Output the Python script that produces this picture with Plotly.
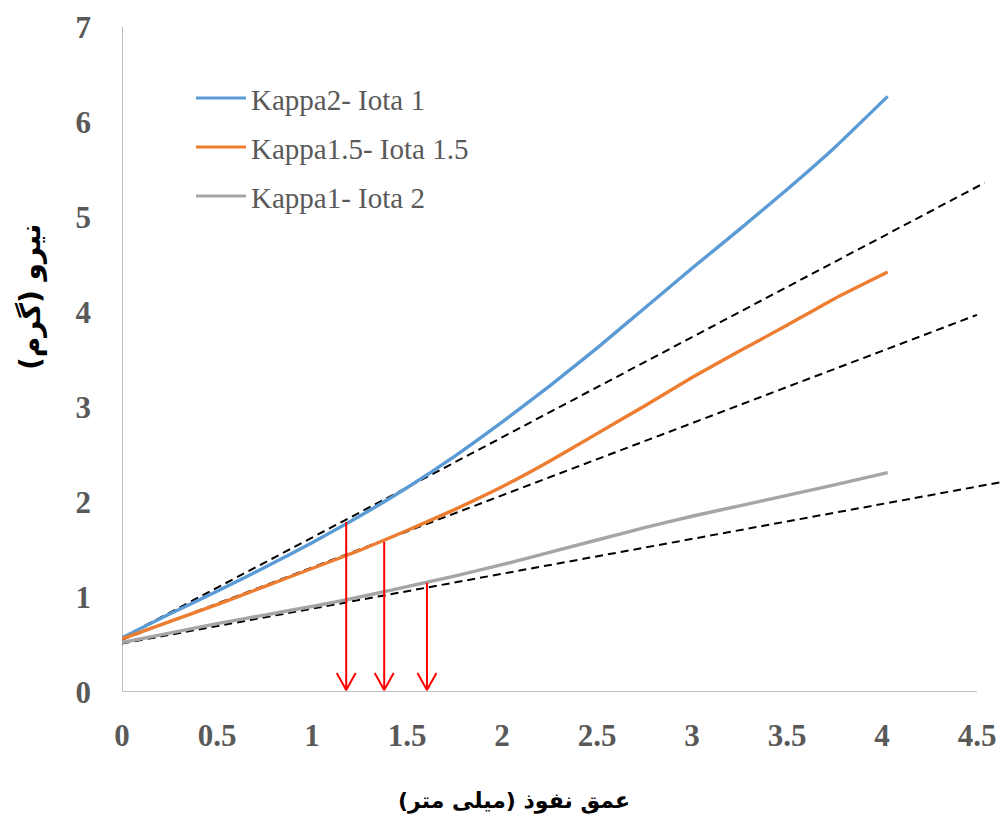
import plotly.graph_objects as go

# ---------------- data ----------------
depth = [0, 0.25, 0.5, 0.75, 1.0, 1.25, 1.5, 1.75, 2.0, 2.25, 2.5, 2.75, 3.0, 3.25, 3.5, 3.75, 4.03]
force_k2_i1 = [0.57, 0.82, 1.06, 1.31, 1.57, 1.85, 2.15, 2.48, 2.84, 3.22, 3.62, 4.04, 4.46, 4.87, 5.29, 5.73, 6.27]
force_k15_i15 = [0.56, 0.74, 0.92, 1.11, 1.30, 1.49, 1.70, 1.92, 2.16, 2.43, 2.72, 3.01, 3.31, 3.59, 3.86, 4.14, 4.42]
force_k1_i2 = [0.52, 0.62, 0.72, 0.81, 0.90, 1.00, 1.11, 1.22, 1.34, 1.47, 1.60, 1.73, 1.85, 1.96, 2.07, 2.18, 2.31]

series_names = ["Kappa2- Iota 1", "Kappa1.5- Iota 1.5", "Kappa1- Iota 2"]
series_values = [force_k2_i1, force_k15_i15, force_k1_i2]
series_colors = ["#5B9BD5", "#ED7D31", "#A5A5A5"]

# tangent (dashed) lines: start at x=0, end at x_end
tangent_y_start = [0.57, 0.55, 0.51]
tangent_x_end = [4.54, 4.50, 4.63]
tangent_y_end = [5.36, 3.97, 2.21]

# red arrows (departure points)
arrow_x = [1.18, 1.38, 1.605]
arrow_top = [1.79, 1.58, 1.15]

x_ticks = [0, 0.5, 1, 1.5, 2, 2.5, 3, 3.5, 4, 4.5]
x_tick_text = ["0", "0.5", "1", "1.5", "2", "2.5", "3", "3.5", "4", "4.5"]
y_ticks = [0, 1, 2, 3, 4, 5, 6, 7]
y_tick_text = ["0", "1", "2", "3", "4", "5", "6", "7"]

x_title = "\u200fعمق نفوذ (میلی متر)\u200f"
y_title = "\u200fنیرو (گرم)\u200f"

# ---------------- layout geometry ----------------
W, H = 1002, 816
ML, MR, MT, MB = 122, 0, 27, 124
PX_PER_X = 190.0  # pixels per x unit
PX_PER_Y = 95.0   # pixels per y unit
x_max = (W - ML - MR) / PX_PER_X
y_max = 7

fig = go.Figure()

# tangent dashed lines
for y0, x1, y1 in zip(tangent_y_start, tangent_x_end, tangent_y_end):
    fig.add_trace(go.Scatter(
        x=[0, x1], y=[y0, y1], mode="lines",
        line=dict(color="black", width=2, dash="8px,5px"),
        showlegend=False, hoverinfo="skip"))

# data curves
for name, vals, col in zip(series_names, series_values, series_colors):
    fig.add_trace(go.Scatter(
        x=depth, y=vals, mode="lines", name=name,
        line=dict(color=col, width=3.4, shape="spline", smoothing=0.4),
        showlegend=False))

# red arrows
head_dx = 9.5 / PX_PER_X
head_dy = 17.0 / PX_PER_Y
for ax, at in zip(arrow_x, arrow_top):
    fig.add_trace(go.Scatter(
        x=[ax, ax], y=[at, 0.02], mode="lines",
        line=dict(color="#FF0000", width=2), showlegend=False, hoverinfo="skip"))
    fig.add_trace(go.Scatter(
        x=[ax - head_dx, ax, ax + head_dx], y=[head_dy + 0.02, 0.02, head_dy + 0.02], mode="lines",
        line=dict(color="#FF0000", width=2), showlegend=False, hoverinfo="skip"))

# axis lines (x axis only up to 4.5)
fig.add_shape(type="line", xref="x", yref="y", x0=0, x1=4.5, y0=0, y1=0,
              line=dict(color="#BFBFBF", width=2), layer="below")
fig.add_shape(type="line", xref="x", yref="y", x0=0, x1=0, y0=0, y1=7,
              line=dict(color="#BFBFBF", width=2), layer="below")

# custom legend
plot_w = W - ML - MR
plot_h = H - MT - MB
def px2paper_x(px):
    return (px - ML) / plot_w
def py2paper_y(py):
    return (H - MB - py) / plot_h

legend_rows_py = [98, 147, 196]
for name, col, py in zip(series_names, series_colors, legend_rows_py):
    fig.add_shape(type="line", xref="paper", yref="paper",
                  x0=px2paper_x(196), x1=px2paper_x(246), y0=py2paper_y(py), y1=py2paper_y(py),
                  line=dict(color=col, width=3))
    fig.add_annotation(xref="paper", yref="paper", x=px2paper_x(249), y=py2paper_y(py + 2),
                       text=name, showarrow=False, xanchor="left", yanchor="middle",
                       font=dict(family="Liberation Serif, Times New Roman, serif", size=29, color="#595959"))

# axis titles
fig.add_annotation(xref="paper", yref="paper", x=px2paper_x(514), y=py2paper_y(801),
                   text="<b>" + x_title + "</b>", showarrow=False,
                   xanchor="center", yanchor="middle",
                   font=dict(family="DejaVu Sans", size=22, color="black"))
fig.add_annotation(xref="paper", yref="paper", x=px2paper_x(30), y=py2paper_y(297),
                   text="<b>" + y_title + "</b>", showarrow=False, textangle=-90,
                   xanchor="center", yanchor="middle",
                   font=dict(family="DejaVu Sans", size=28, color="black"))

tick_font = dict(family="Liberation Serif, Times New Roman, serif", size=31, color="#595959", weight="bold")

fig.update_layout(
    width=W, height=H,
    margin=dict(l=ML, r=MR, t=MT, b=MB, pad=0),
    paper_bgcolor="white", plot_bgcolor="white",
    showlegend=False,
    xaxis=dict(range=[0, x_max], showgrid=False, zeroline=False, showline=False,
               tickvals=x_ticks, ticktext=x_tick_text, ticks="", ticklabelstandoff=22,
               tickfont=tick_font, fixedrange=True),
    yaxis=dict(range=[0, y_max], showgrid=False, zeroline=False, showline=False,
               tickvals=y_ticks, ticktext=y_tick_text, ticks="", ticklabelstandoff=30,
               tickfont=tick_font, fixedrange=True),
)

fig.write_html("out.html")
